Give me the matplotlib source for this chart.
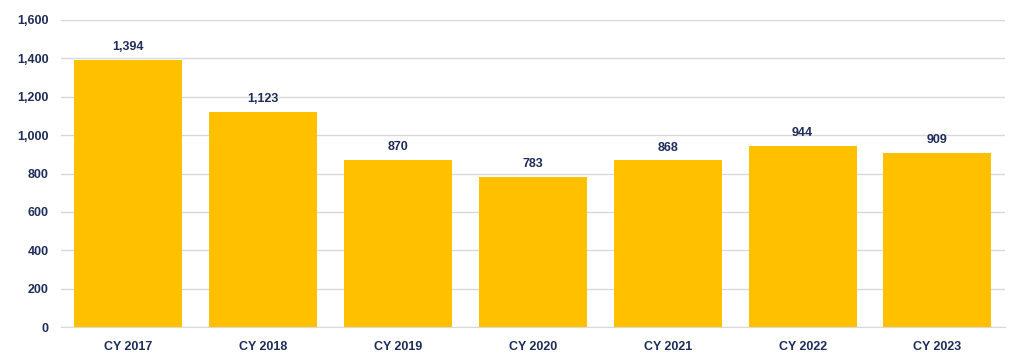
import matplotlib.pyplot as plt
import numpy as np

years = ['CY 2017', 'CY 2018', 'CY 2019', 'CY 2020', 'CY 2021', 'CY 2022', 'CY 2023']
counts = [1394, 1123, 870, 783, 868, 944, 909]

navy = '#1F2D5A'
plt.rcParams['font.family'] = ['Liberation Sans', 'DejaVu Sans']

fig = plt.figure(figsize=(10.15, 3.57), dpi=100)
ax = fig.add_axes([0.060, 0.084, 0.930, 0.860])

x = np.arange(len(years))
bars = ax.bar(x, counts, width=0.8, color='#FFC000', zorder=3)

for xi, v in zip(x, counts):
    ax.text(xi, v + 35, f'{v:,}', ha='center', va='bottom', fontsize=9,
            fontweight='bold', color=navy)

ax.set_xlim(-0.5, len(years) - 0.5)
ax.set_ylim(0, 1600)
ax.set_yticks(np.arange(0, 1601, 200))
ax.set_yticklabels([f'{v:,}' for v in range(0, 1601, 200)])
ax.set_xticks(x)
ax.set_xticklabels(years)
ax.grid(axis='y', color='#D9D9D9', linewidth=1, zorder=0)
ax.grid(axis='x', visible=False)
for s in ['top', 'right', 'left']:
    ax.spines[s].set_visible(False)
ax.spines['bottom'].set_color('#D9D9D9')
ax.tick_params(axis='both', length=0, labelsize=9, labelcolor=navy)
ax.tick_params(axis='y', pad=9)
ax.tick_params(axis='x', pad=10)
for lab in ax.get_xticklabels() + ax.get_yticklabels():
    lab.set_fontweight('bold')

plt.savefig('out.png', dpi=100)
